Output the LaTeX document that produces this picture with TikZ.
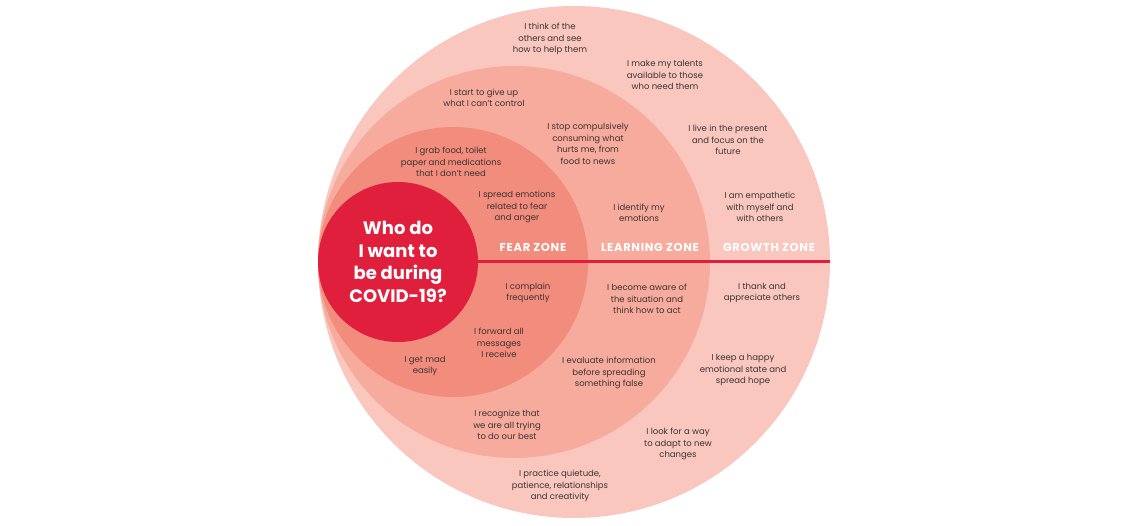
\documentclass[tikz,border=0pt]{standalone}
\usepackage{fontspec}
\setmainfont{Poppins}
\definecolor{CoreClr}{HTML}{E01F3D}
\definecolor{FearClr}{HTML}{F28C7D}
\definecolor{LearnClr}{HTML}{F7AB9C}
\definecolor{GrowthClr}{HTML}{F9C7BE}
\definecolor{InkClr}{HTML}{3A3434}

\begin{document}
\begin{tikzpicture}[x=1pt,y=-1pt,
  zone/.style={circle,inner sep=0pt,draw=none},
  note/.style={align=center,inner sep=0pt,text=InkClr,font=\fontsize{8.5}{11.5}\selectfont},
  zonelabel/.style={inner sep=0pt,text=white,font=\fontsize{11.5}{13}\selectfont\bfseries\addfontfeature{LetterSpace=6}}]
\useasboundingbox (0,0) rectangle (1145,526);

\node[zone,fill=GrowthClr,minimum size=512pt] (growth) at (574,262) {};
\node[zone,fill=LearnClr,minimum size=392pt] (learning) at (514,262) {};
\node[zone,fill=FearClr,minimum size=270pt] (fear) at (453,262) {};
\node[zone,fill=CoreClr,minimum size=160pt] (core) at (398,262) {};

\draw[CoreClr,line width=3pt] (core.east) -- (growth.east);

\node[align=center,text=white,font=\fontsize{18}{22.5}\selectfont\bfseries] (title) at (core) {Who do\\I want to\\be during\\COVID-19?};

\node[zonelabel] (fearlbl) at (533,247) {FEAR ZONE};
\node[zonelabel] (learnlbl) at (650,247) {LEARNING ZONE};
\node[zonelabel] (growthlbl) at (769,247) {GROWTH ZONE};

\node[note] (think) at (550,39) {I think of the\\others and see\\how to help them};
\node[note] (talents) at (665,75) {I make my talents\\available to those\\who need them};
\node[note] (giveup) at (484,98) {I start to give up\\what I can't control};
\node[note] (stopcons) at (588,144) {I stop compulsively\\consuming what\\hurts me, from\\food to news};
\node[note] (present) at (728,140) {I live in the present\\and focus on the\\future};
\node[note] (grab) at (451,162) {I grab food, toilet\\paper and medications\\that I don't need};
\node[note] (spread) at (517,207) {I spread emotions\\related to fear\\and anger};
\node[note] (identify) at (639,213) {I identify my\\emotions};
\node[note] (empathetic) at (760,207) {I am empathetic\\with myself and\\with others};

\node[note] (complain) at (528,293) {I complain\\frequently};
\node[note] (aware) at (647,299) {I become aware of\\the situation and\\think how to act};
\node[note] (thank) at (762,293) {I thank and\\appreciate others};
\node[note] (forward) at (499,343) {I forward all\\messages\\I receive};
\node[note] (mad) at (425,366) {I get mad\\easily};
\node[note] (evaluate) at (609,373) {I evaluate information\\before spreading\\something false};
\node[note] (happy) at (743,370) {I keep a happy\\emotional state and\\spread hope};
\node[note] (recognize) at (507,425) {I recognize that\\we are all trying\\to do our best};
\node[note] (adapt) at (678,444) {I look for a way\\to adapt to new\\changes};
\node[note] (quietude) at (560,486) {I practice quietude,\\patience, relationships\\and creativity};

\end{tikzpicture}
\end{document}
